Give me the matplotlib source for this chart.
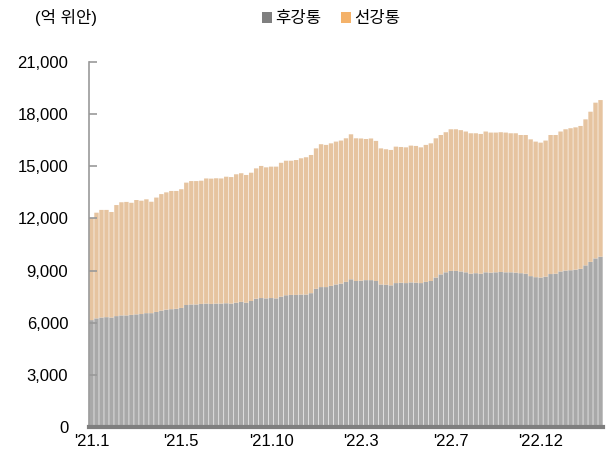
import matplotlib
matplotlib.use("Agg")
import matplotlib.pyplot as plt
from matplotlib.patches import Patch
import numpy as np

plt.rcParams['font.family'] = ['Liberation Sans', 'Noto Sans CJK KR', 'DejaVu Sans']

# 후강통 (Shanghai-HK connect) balance, 억 위안
hu = [6150, 6250, 6300, 6320, 6300, 6380, 6420, 6420, 6450, 6480,
      6500, 6550, 6550, 6620, 6700, 6750, 6780, 6800, 6850, 7020,
      7050, 7050, 7080, 7100, 7080, 7100, 7100, 7120, 7100, 7150,
      7200, 7150, 7250, 7380, 7420, 7400, 7420, 7400, 7500, 7580,
      7600, 7600, 7620, 7620, 7700, 7950, 8050, 8050, 8120, 8200,
      8250, 8350, 8500, 8400, 8420, 8450, 8450, 8400, 8200, 8180,
      8150, 8280, 8300, 8280, 8320, 8300, 8280, 8350, 8400, 8600,
      8780, 8900, 8980, 8980, 8950, 8900, 8820, 8850, 8820, 8900,
      8880, 8900, 8920, 8900, 8900, 8880, 8850, 8820, 8680, 8620,
      8600, 8650, 8800, 8820, 8950, 9000, 9020, 9050, 9100, 9300,
      9500, 9700, 9800]

# 선강통 (Shenzhen-HK connect) balance, 억 위안
sun = [5870, 6080, 6190, 6170, 6070, 6390, 6510, 6530, 6450, 6580,
       6520, 6550, 6410, 6580, 6700, 6750, 6800, 6780, 6830, 7040,
       7100, 7100, 7090, 7200, 7210, 7210, 7200, 7280, 7280, 7390,
       7400, 7350, 7380, 7500, 7600, 7540, 7560, 7580, 7700, 7740,
       7720, 7760, 7840, 7900, 7950, 8080, 8220, 8180, 8200, 8220,
       8230, 8260, 8340, 8210, 8180, 8120, 8150, 8060, 7830, 7800,
       7790, 7850, 7810, 7810, 7870, 7870, 7810, 7880, 7920, 8010,
       8020, 8060, 8150, 8150, 8130, 8100, 8080, 8050, 8040, 8100,
       8060, 8040, 8040, 8040, 8000, 8020, 7950, 7980, 7870, 7800,
       7760, 7830, 8000, 7980, 8050, 8130, 8170, 8190, 8220, 8400,
       8640, 8960, 9010]

tick_pos = [0, 18, 36, 54, 72, 90]
tick_labels = ["'21.1", "'21.5", "'21.10", "'22.3", "'22.7", "'22.12"]
yticks = [0, 3000, 6000, 9000, 12000, 15000, 18000, 21000]

fig = plt.figure(figsize=(6.06, 4.53), dpi=100)
ax = fig.add_axes([89/606, 26/453, (603-89)/606, 365/453])

x = np.arange(len(hu))
b1 = ax.bar(x, hu, width=0.88, color='#a9a9a9', edgecolor='none', linewidth=0)
b2 = ax.bar(x, sun, bottom=hu, width=0.88, color='#e6c4a0', edgecolor='none', linewidth=0)
for p in list(b1) + list(b2):
    p.set_snap(False)

ax.set_xlim(-0.5, len(hu) - 0.5)
ax.set_ylim(0, 21000)
ax.set_yticks(yticks)
ax.set_yticklabels([f"{v:,}" for v in yticks])
ax.set_xticks(tick_pos)
ax.set_xticklabels(tick_labels)

for s in ['top', 'right']:
    ax.spines[s].set_visible(False)
ax.spines['left'].set_color('#999999')
ax.spines['left'].set_linewidth(1.2)
ax.spines['bottom'].set_color('#7f7f7f')
ax.spines['bottom'].set_linewidth(3)

ax.tick_params(axis='y', direction='in', length=6, width=1.2, color='#999999',
               labelsize=12, pad=15, labelcolor='#000000')
ax.tick_params(axis='x', length=0, labelsize=12, pad=5, labelcolor='#000000')

fig.text(35/606, 1 - 17/453, "(억 위안)", fontsize=12, ha='left', va='center')

handles = [Patch(facecolor='#7f7f7f', edgecolor='none', label='후강통'),
           Patch(facecolor='#f4b26a', edgecolor='none', label='선강통')]
fig.legend(handles=handles, loc='center', bbox_to_anchor=(331/606, 1 - 19/453), ncol=2,
           frameon=False, fontsize=12, handlelength=0.6, handleheight=0.6,
           handletextpad=0.2, columnspacing=1.2)

fig.savefig("out.png", dpi=100)
